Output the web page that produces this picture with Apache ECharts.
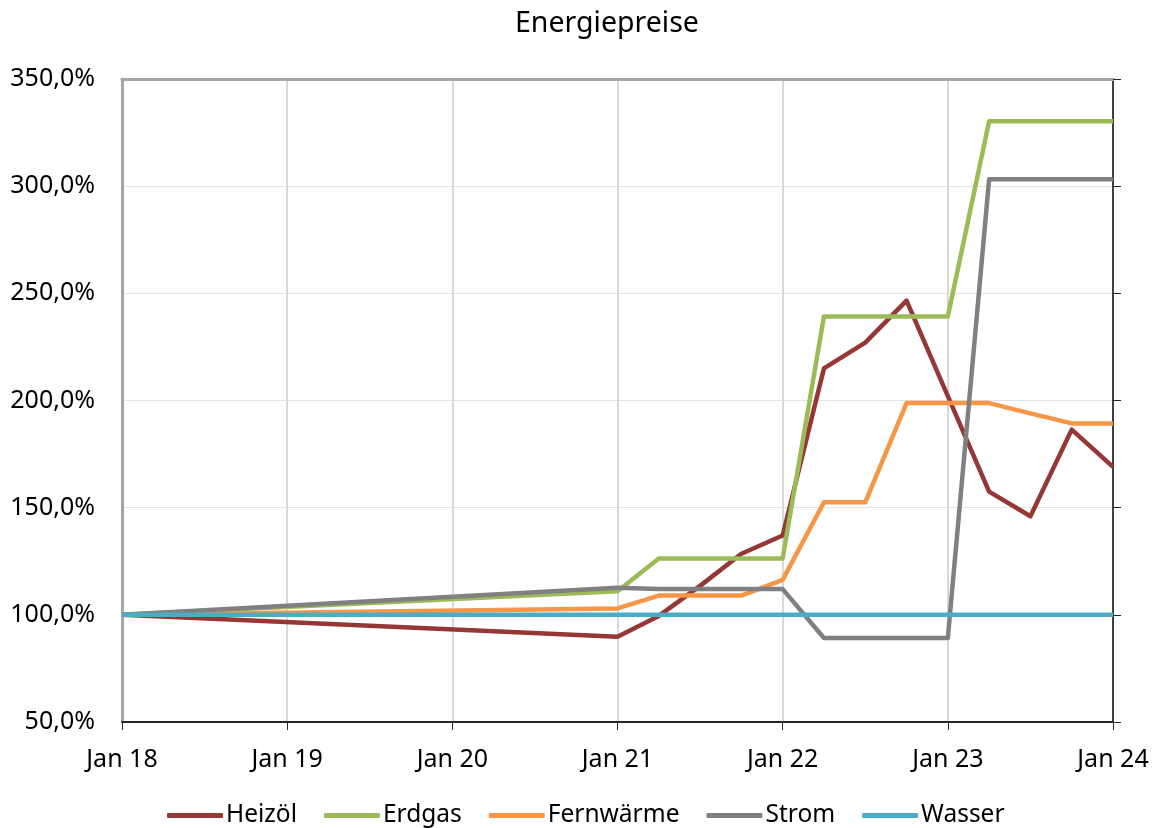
<!DOCTYPE html>
<html>
<head>
<meta charset="utf-8">
<script src="https://cdn.jsdelivr.net/npm/echarts@6/dist/echarts.min.js"></script>
<style>
  html, body { margin: 0; padding: 0; background: #ffffff; }
  #chart { width: 1159px; height: 828px; }
</style>
</head>
<body>
<div id="chart"></div>
<script>
// Stichtage (Jahr-Monat) und Preisindizes in Prozent (Jan 18 = 100 %)
const dates = ['2018-01', '2021-01', '2021-04', '2021-07', '2021-10', '2022-01', '2022-04',
               '2022-07', '2022-10', '2023-01', '2023-04', '2023-07', '2023-10', '2024-01'];
const heizoel    = [100, 89.8, 99.5, 113.5, 128.5, 137.0, 215.0, 227.0, 246.6, 202.0, 157.5, 146.0, 186.4, 169.0];
const erdgas     = [100, 111.0, 126.3, 126.3, 126.3, 126.3, 239.2, 239.2, 239.2, 239.2, 330.3, 330.3, 330.3, 330.3];
const fernwaerme = [100, 103.0, 109.0, 109.0, 109.0, 116.3, 152.5, 152.5, 198.8, 198.8, 198.8, 194.0, 189.3, 189.3];
const strom      = [100, 112.6, 112.0, 112.0, 112.0, 112.0, 89.2, 89.2, 89.2, 89.2, 303.2, 303.2, 303.2, 303.2];
const wasser     = [100, 100, 100, 100, 100, 100, 100, 100, 100, 100, 100, 100, 100, 100];

const seriesNames = ['Heizöl', 'Erdgas', 'Fernwärme', 'Strom', 'Wasser'];
const seriesData  = [heizoel, erdgas, fernwaerme, strom, wasser];
const colors = ['#953735', '#9BBB59', '#F79646', '#808080', '#4BACC6'];

// Monate seit Jan 2018 als x-Koordinate
const startYear = 2018;
const monthIndex = d => {
  const [y, m] = d.split('-').map(Number);
  return (y - startYear) * 12 + (m - 1);
};
const xs = dates.map(monthIndex);

const font = '"Noto Sans", "Open Sans", sans-serif';
const pct = v => v.toFixed(1).replace('.', ',') + '%';

const chart = echarts.init(document.getElementById('chart'));
chart.setOption({
  backgroundColor: '#ffffff',
  animation: false,
  color: colors,
  title: {
    text: 'Energiepreise',
    left: 510,
    top: 4,
    textStyle: { fontFamily: font, fontSize: 28.5, fontWeight: 'normal', color: '#000000' }
  },
  legend: {
    top: 798,
    left: 162,
    icon: 'roundRect',
    itemWidth: 56,
    itemHeight: 5,
    itemGap: 27,
    textStyle: { fontFamily: font, fontSize: 24.5, color: '#000000', padding: [0, 0, 0, -2] },
    data: seriesNames
  },
  grid: { left: 122, right: 46, top: 79, bottom: 106, containLabel: false },
  xAxis: [{
    type: 'value',
    min: 0,
    max: 72,
    interval: 12,
    axisLine: { show: true, lineStyle: { color: '#262626', width: 2 } },
    axisTick: { show: true, length: 8, lineStyle: { color: '#262626', width: 1 } },
    axisLabel: {
      margin: 25,
      fontFamily: font, fontSize: 25, color: '#000000',
      formatter: v => 'Jan ' + String((startYear + v / 12) % 100).padStart(2, '0')
    },
    splitLine: { show: true, lineStyle: { color: '#d9d9d9', width: 2 } }
  }, {
    type: 'value',
    position: 'top',
    min: 0,
    max: 72,
    interval: 12,
    axisLine: { show: true, onZero: false, lineStyle: { color: '#a6a6a6', width: 3 } },
    axisTick: { show: false },
    axisLabel: { show: false },
    splitLine: { show: false }
  }],
  yAxis: [{
    type: 'value',
    min: 50,
    max: 350,
    interval: 50,
    axisLine: { show: true, onZero: false, lineStyle: { color: '#a6a6a6', width: 3 } },
    axisTick: { show: false },
    axisLabel: { margin: 27, fontFamily: font, fontSize: 25, color: '#000000', formatter: pct },
    splitLine: { show: true, lineStyle: { color: '#e3e3e3', width: 1 } }
  }, {
    type: 'value',
    position: 'right',
    min: 50,
    max: 350,
    interval: 50,
    axisLine: { show: true, onZero: false, lineStyle: { color: '#404040', width: 2 } },
    axisTick: { show: true, length: 8, lineStyle: { color: '#262626', width: 1 } },
    axisLabel: { show: false },
    splitLine: { show: false }
  }],
  series: seriesNames.map((name, i) => ({
    name,
    type: 'line',
    xAxisIndex: 0,
    yAxisIndex: 0,
    showSymbol: false,
    symbol: 'none',
    lineStyle: { color: colors[i], width: 4.5, join: 'round' },
    itemStyle: { color: colors[i] },
    data: xs.map((x, k) => [x, seriesData[i][k]])
  }))
});
</script>
</body>
</html>
